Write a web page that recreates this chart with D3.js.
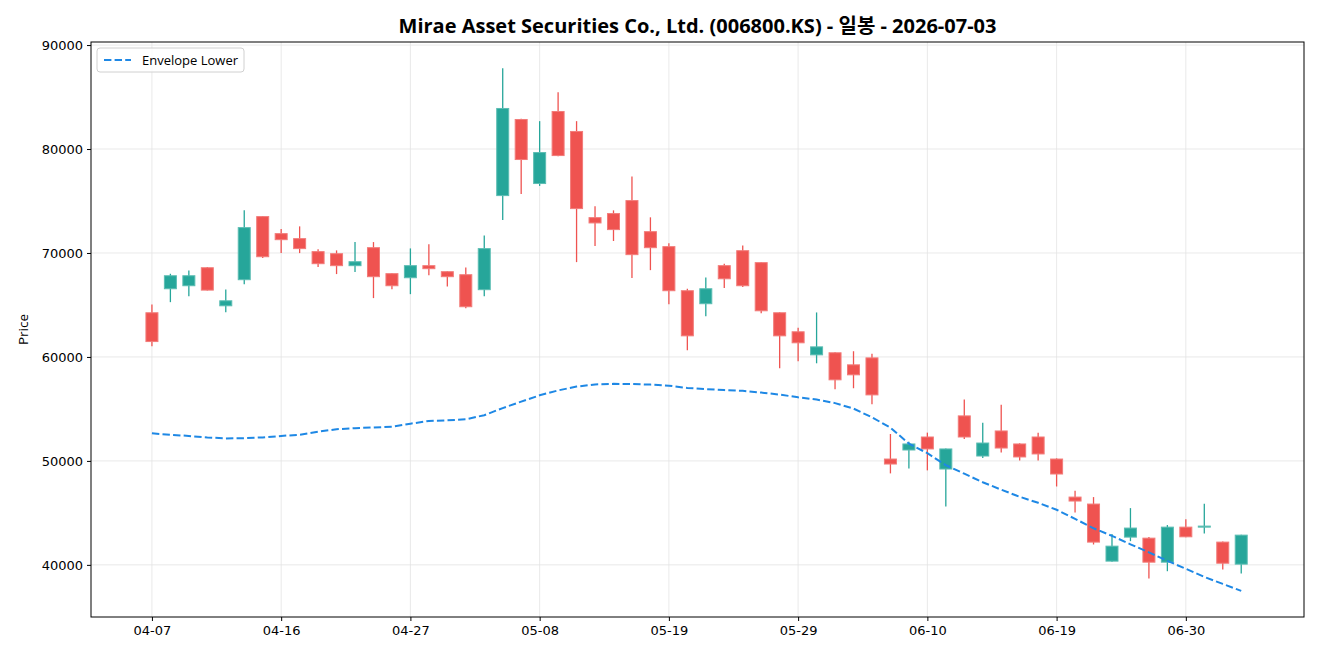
<!DOCTYPE html>
<html>
<head>
<meta charset="utf-8">
<script src="https://cdn.jsdelivr.net/npm/d3@7"></script>
<style>
  body { margin: 0; background: #fff; }
  text { font-family: "Open Sans", "Noto Sans CJK KR", sans-serif; }
  .tick text { font-family: "DejaVu Sans", sans-serif; }
</style>
</head>
<body>
<div id="chart"></div>
<script>
var dates = ["04-07","04-08","04-09","04-10","04-13","04-14","04-15","04-16","04-17","04-20",
  "04-21","04-22","04-23","04-24","04-27","04-28","04-29","04-30","05-04","05-06",
  "05-07","05-08","05-11","05-12","05-13","05-14","05-15","05-18","05-19","05-20",
  "05-21","05-22","05-26","05-27","05-28","05-29","06-01","06-02","06-04","06-05",
  "06-08","06-09","06-10","06-11","06-12","06-15","06-16","06-17","06-18","06-19",
  "06-22","06-23","06-24","06-25","06-26","06-29","06-30","07-01","07-02","07-03"]

var open = [64250,66560,66850,68580,64920,67430,73500,71860,71380,70130,
  69930,68780,70510,68010,67620,68780,68200,67910,66470,75520,
  82840,76680,83610,81690,73400,73790,75040,72050,70610,66370,
  65120,68780,70220,69070,64250,62420,60200,60400,59240,59910,
  50180,51050,52300,49220,54330,50470,52880,51630,52300,50180,
  46520,45850,40360,42670,42570,40260,43630,43630,42190,40070]

var high = [65050,68000,68320,68650,66490,74100,73560,72300,72560,70350,
  70250,71050,71050,68050,70440,70830,68250,68610,71670,87780,
  82900,82680,85470,82680,74490,74100,77360,73430,70930,66560,
  67650,68970,70730,69100,64300,62800,64280,60450,60550,60300,
  52590,51850,52720,51200,55900,53680,55410,51700,52720,50250,
  47130,46520,42960,45460,42670,43830,44400,45880,42250,42900]

var low = [61030,65270,65850,66400,64310,67000,69510,69990,69990,68650,
  67970,68160,65660,66520,66040,67870,66780,64690,65850,73170,
  75670,76450,79300,69120,70670,71150,67590,68350,65080,60650,
  63920,66620,66720,64210,58910,59590,59390,56890,56990,55440,
  48800,49280,49090,45620,52110,50280,50820,50050,50050,47540,
  45040,41960,40300,42280,38680,39390,42650,43020,39550,39160]

var close = [61480,67810,67810,66430,65400,72440,69640,71280,70420,68970,
  68780,69160,67720,66850,68780,68490,67720,64830,70420,83900,
  78990,79660,79370,74270,72890,72250,69840,70510,66370,62030,
  66560,67520,66850,64440,62030,61360,60970,57800,58280,56350,
  49700,51630,51150,51150,52300,51720,51240,50380,50670,48740,
  46140,42190,41800,43540,40260,43630,42700,43730,40160,42860]

var envLower = [52650,52520,52400,52260,52160,52190,52260,52400,52520,52810,
  53050,53150,53220,53290,53580,53840,53900,54000,54400,55080,
  55700,56310,56780,57150,57360,57410,57390,57340,57240,57010,
  56910,56810,56740,56570,56380,56120,55900,55560,55030,54190,
  53200,51660,50740,49590,48770,47950,47230,46550,45970,45300,
  44430,43520,42790,41980,41200,40390,39620,38840,38170,37500]

var xTickIdx = [0, 7, 14, 21, 28, 35, 42, 49, 56]
var yTicks = [40000, 50000, 60000, 70000, 80000, 90000]

var titleText = "Mirae Asset Securities Co., Ltd. (006800.KS) - 일봉 - 2026-07-03"
var upColor = "#26a69a", downColor = "#ef5350", envColor = "#1e88e5"

var width = 1320, height = 660
var margin = {left: 91, right: 16, top: 42, bottom: 43}

var candles = dates.map(function(d, i) {
  return {i: i, date: d, o: open[i], h: high[i], l: low[i], c: close[i]}
})

var svg = d3.select("#chart").append("svg")
  .attr("width", width)
  .attr("height", height)

svg.append("rect").attr("width", width).attr("height", height).attr("fill", "#fff")

var x = d3.scaleLinear()
  .domain([-3.3, dates.length - 1 + 3.4])
  .range([margin.left, width - margin.right])

var lo = Math.min(d3.min(low), d3.min(envLower))
var hi = Math.max(d3.max(high), d3.max(envLower))
var pad = (hi - lo) * 0.05
var y = d3.scaleLinear()
  .domain([lo - pad, hi + pad])
  .range([height - margin.bottom, margin.top])

// grid
var grid = svg.append("g").attr("class", "grid")
grid.selectAll("line.gx").data(xTickIdx).enter().append("line")
  .attr("x1", function(d) { return x(d) }).attr("x2", function(d) { return x(d) })
  .attr("y1", margin.top).attr("y2", height - margin.bottom)
  .attr("stroke", "#e3e3e3").attr("stroke-width", 0.8)
grid.selectAll("line.gy").data(yTicks).enter().append("line")
  .attr("x1", margin.left).attr("x2", width - margin.right)
  .attr("y1", function(d) { return y(d) }).attr("y2", function(d) { return y(d) })
  .attr("stroke", "#e3e3e3").attr("stroke-width", 0.8)

// candles
var cw = 12
var cg = svg.append("g").attr("class", "candles")
  .selectAll("g").data(candles).enter().append("g")

cg.append("line")
  .attr("x1", function(d) { return x(d.i) }).attr("x2", function(d) { return x(d.i) })
  .attr("y1", function(d) { return y(d.h) }).attr("y2", function(d) { return y(d.l) })
  .attr("stroke", function(d) { return d.c >= d.o ? upColor : downColor })
  .attr("stroke-width", 1.3)

cg.append("rect")
  .attr("x", function(d) { return x(d.i) - cw / 2 })
  .attr("y", function(d) { return y(Math.max(d.o, d.c)) })
  .attr("width", cw)
  .attr("height", function(d) { return Math.max(1, Math.abs(y(d.o) - y(d.c))) })
  .attr("fill", function(d) { return d.c >= d.o ? upColor : downColor })
  .attr("stroke", function(d) { return d.c >= d.o ? "#5cbdb3" : "#f27c7a" })
  .attr("stroke-width", 1)

// envelope lower
var line = d3.line()
  .x(function(d, i) { return x(i) })
  .y(function(d) { return y(d) })

svg.append("path")
  .datum(envLower)
  .attr("d", line)
  .attr("fill", "none")
  .attr("stroke", envColor)
  .attr("stroke-width", 2)
  .attr("stroke-dasharray", "7.4,3.2")

// frame
svg.append("rect")
  .attr("x", margin.left).attr("y", margin.top)
  .attr("width", width - margin.left - margin.right)
  .attr("height", height - margin.top - margin.bottom)
  .attr("fill", "none").attr("stroke", "#000").attr("stroke-width", 1)

// axes
var xAxis = d3.axisBottom(x)
  .tickValues(xTickIdx)
  .tickFormat(function(d) { return dates[d] })
  .tickSize(4).tickPadding(5)
var gx = svg.append("g")
  .attr("transform", "translate(0," + (height - margin.bottom) + ")")
  .call(xAxis)
gx.select(".domain").remove()
gx.selectAll("text").style("font-size", "13px").attr("fill", "#000")

var yAxis = d3.axisLeft(y)
  .tickValues(yTicks)
  .tickFormat(d3.format("d"))
  .tickSize(4).tickPadding(4)
var gy = svg.append("g")
  .attr("transform", "translate(" + margin.left + ",0)")
  .call(yAxis)
gy.select(".domain").remove()
gy.selectAll("text").style("font-size", "13px").attr("fill", "#000")

svg.append("text")
  .attr("transform", "translate(28," + ((margin.top + height - margin.bottom) / 2) + ") rotate(-90)")
  .attr("text-anchor", "middle")
  .style("font-size", "13.5px")
  .text("Price")

svg.append("text")
  .attr("x", (margin.left + width - margin.right) / 2)
  .attr("y", 33)
  .attr("text-anchor", "middle")
  .style("font-size", "20px")
  .style("font-weight", "bold")
  .text(titleText)

// legend
var lg = svg.append("g").attr("transform", "translate(97,48)")
lg.append("rect")
  .attr("width", 147).attr("height", 24).attr("rx", 3)
  .attr("fill", "#fff").attr("fill-opacity", 0.8)
  .attr("stroke", "#d0d0d0")
lg.append("line")
  .attr("x1", 7).attr("x2", 34).attr("y1", 12).attr("y2", 12)
  .attr("stroke", envColor).attr("stroke-width", 2).attr("stroke-dasharray", "7.4,3.2")
lg.append("text")
  .attr("x", 45).attr("y", 16.5)
  .style("font-size", "13px")
  .text("Envelope Lower")
</script>
</body>
</html>
